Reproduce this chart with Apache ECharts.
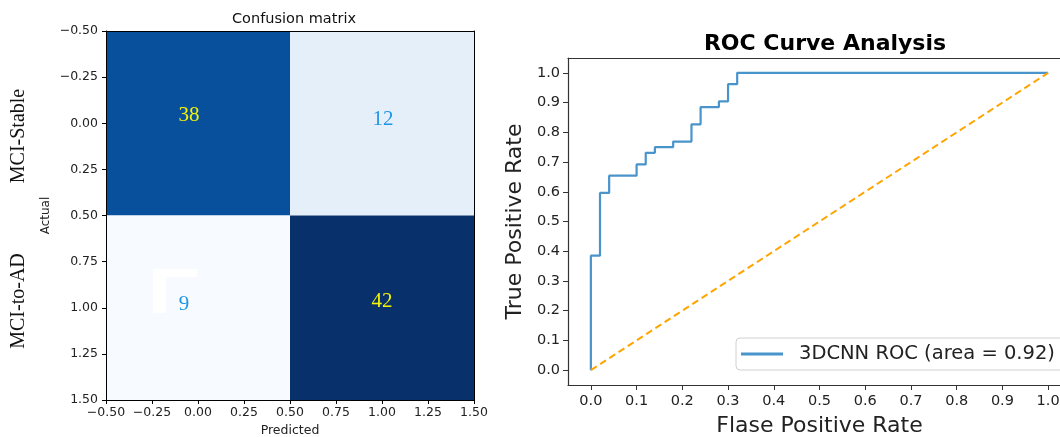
<!DOCTYPE html>
<html>
<head>
<meta charset="utf-8">
<script src="https://cdn.jsdelivr.net/npm/echarts@6/dist/echarts.min.js"></script>
<style>
  html, body { margin: 0; padding: 0; background: #fff; }
  #app { width: 1060px; height: 437px; }
</style>
</head>
<body>
<div id="app"></div>
<script>
// class names and confusion counts (rows = actual, cols = predicted)
var classNames = ['MCI-Stable', 'MCI-to-AD'];
var confusion = [[38, 12], [9, 42]];
// matplotlib Blues colormap stops
var bluesMap = ['#f7fbff', '#deebf7', '#c6dbef', '#9ecae1', '#6baed6', '#4292c6', '#2171b5', '#08519c', '#08306b'];

// ROC curve points
var fpr = [0, 0, 0.02, 0.02, 0.04, 0.04, 0.10, 0.10, 0.12, 0.12, 0.14, 0.14, 0.18, 0.18, 0.22, 0.22, 0.24, 0.24, 0.28, 0.28, 0.30, 0.30, 0.32, 0.32, 1.0];
var tpr = [0, 0.385, 0.385, 0.596, 0.596, 0.654, 0.654, 0.692, 0.692, 0.731, 0.731, 0.750, 0.750, 0.769, 0.769, 0.827, 0.827, 0.885, 0.885, 0.904, 0.904, 0.962, 0.962, 1.0, 1.0];
var chanceX = [0, 1];
var chanceY = [0, 1];
var rocTicks = [0, 0.1, 0.2, 0.3, 0.4, 0.5, 0.6, 0.7, 0.8, 0.9, 1.0];
var rocName = '3DCNN ROC (area = 0.92)';

var FONT = 'DejaVu Sans';
var SERIF = 'Liberation Serif';

// the numbers in the matrix are not quite centred in the reference
var cellTextShift = { '0,0': [-9, -8], '1,0': [1, -4], '0,1': [-14, -3], '1,1': [0, -6] };

var cmData = [];
confusion.forEach(function (row, r) {
    row.forEach(function (v, c) { cmData.push([c, r, v]); });
});
var maxCount = Math.max.apply(null, cmData.map(function (d) { return d[2]; }));
var rocData = fpr.map(function (x, i) { return [x, tpr[i]]; });
var chanceData = chanceX.map(function (x, i) { return [x, chanceY[i]]; });

function cmFmt(v) {
    return v.toFixed(2).replace('-', '\u2212');
}

var chart = echarts.init(document.getElementById('app'), null, { renderer: 'canvas' });

var option = {
    animation: false,
    backgroundColor: '#fff',
    textStyle: { fontFamily: FONT },
    title: [
        { text: 'Confusion matrix', left: 289, top: 7, textAlign: 'center',
          textStyle: { fontSize: 14.5, fontWeight: 'normal', color: '#111', fontFamily: FONT } },
        { text: 'ROC Curve Analysis', left: 820, top: 28, textAlign: 'center',
          textStyle: { fontSize: 22, fontWeight: 'bold', color: '#000', fontFamily: FONT } }
    ],
    legend: {
        data: [rocName],
        left: 736, top: 338,
        padding: [6, 10, 6, 5],
        icon: 'rect',
        itemWidth: 42, itemHeight: 3, itemGap: 10,
        backgroundColor: '#fff',
        borderColor: '#d0d0d0', borderWidth: 1, borderRadius: 4,
        textStyle: { fontSize: 19.5, color: '#222', fontFamily: FONT, padding: [0, 0, 0, 11] }
    },
    visualMap: {
        show: false,
        type: 'continuous',
        seriesIndex: 0,
        dimension: 2,
        min: 9, max: 42,
        inRange: { color: bluesMap }
    },
    grid: [
        { left: 106, top: 31, width: 368, height: 369, outerBoundsMode: 'none', containLabel: false },
        { left: 568, top: 58, width: 503, height: 327, outerBoundsMode: 'none', containLabel: false }
    ],
    xAxis: [
        { type: 'value', gridIndex: 0, min: -0.5, max: 1.5, interval: 0.25, z: 10,
          name: 'Predicted', nameLocation: 'middle', nameGap: 24,
          nameTextStyle: { fontSize: 12.5, color: '#222' },
          axisLine: { show: true, onZero: false, lineStyle: { color: '#000', width: 1 } },
          axisTick: { show: true, length: 4, lineStyle: { color: '#000' } },
          axisLabel: { fontSize: 12.5, color: '#222', margin: 6, formatter: cmFmt, showMinLabel: true, showMaxLabel: true },
          splitLine: { show: false } },
        { type: 'value', gridIndex: 0, position: 'top', min: -0.5, max: 1.5, z: 10,
          axisLine: { show: true, onZero: false, lineStyle: { color: '#000', width: 1 } },
          axisTick: { show: false }, axisLabel: { show: false }, splitLine: { show: false } },
        { type: 'value', gridIndex: 1, min: -0.05, max: 1.05, z: 10,
          name: 'Flase Positive Rate', nameLocation: 'middle', nameGap: 30,
          nameTextStyle: { fontSize: 22, color: '#222' },
          axisLine: { show: true, onZero: false, lineStyle: { color: '#333', width: 1.2 } },
          axisTick: { show: true, length: 5, customValues: rocTicks, lineStyle: { color: '#333' } },
          axisLabel: { fontSize: 14.5, color: '#222', margin: 9, customValues: rocTicks,
                       formatter: function (v) { return v.toFixed(1); } },
          splitLine: { show: false } },
        { type: 'value', gridIndex: 1, position: 'top', min: -0.05, max: 1.05, z: 10,
          axisLine: { show: true, onZero: false, lineStyle: { color: '#333', width: 1.2 } },
          axisTick: { show: false }, axisLabel: { show: false }, splitLine: { show: false } }
    ],
    yAxis: [
        { type: 'value', gridIndex: 0, inverse: true, min: -0.5, max: 1.5, interval: 0.25, z: 10,
          name: 'Actual', nameLocation: 'middle', nameGap: 54, nameRotate: 90,
          nameTextStyle: { fontSize: 12, color: '#222' },
          axisLine: { show: true, onZero: false, lineStyle: { color: '#000', width: 1 } },
          axisTick: { show: true, length: 4, lineStyle: { color: '#000' } },
          axisLabel: { fontSize: 12.5, color: '#222', margin: 8, formatter: cmFmt, showMinLabel: true, showMaxLabel: true },
          splitLine: { show: false } },
        { type: 'value', gridIndex: 0, position: 'right', inverse: true, min: -0.5, max: 1.5, z: 10,
          axisLine: { show: true, onZero: false, lineStyle: { color: '#000', width: 1 } },
          axisTick: { show: false }, axisLabel: { show: false }, splitLine: { show: false } },
        { type: 'value', gridIndex: 1, min: -0.05, max: 1.05, z: 10,
          name: 'True Positive Rate', nameLocation: 'middle', nameGap: 42, nameRotate: 90,
          nameTextStyle: { fontSize: 22, color: '#222' },
          axisLine: { show: true, onZero: false, lineStyle: { color: '#333', width: 1.2 } },
          axisTick: { show: true, length: 5, customValues: rocTicks, lineStyle: { color: '#333' } },
          axisLabel: { fontSize: 14.5, color: '#222', margin: 8, customValues: rocTicks,
                       formatter: function (v) { return v.toFixed(1); } },
          splitLine: { show: false } }
    ],
    graphic: [
        // class names beside the matrix rows
        { type: 'text', x: 19, y: 136, rotation: Math.PI / 2, z: 20,
          style: { text: classNames[0], font: '20px "' + SERIF + '"', fill: '#111', align: 'center', verticalAlign: 'middle' } },
        { type: 'text', x: 19, y: 301, rotation: Math.PI / 2, z: 20,
          style: { text: classNames[1], font: '20px "' + SERIF + '"', fill: '#111', align: 'center', verticalAlign: 'middle' } },
        // stray white mark in the lower-left cell
        { type: 'rect', z: 20, shape: { x: 153, y: 269, width: 44, height: 8 }, style: { fill: '#ffffff' } },
        { type: 'rect', z: 20, shape: { x: 153, y: 269, width: 13, height: 44 }, style: { fill: '#ffffff' } }
    ],
    series: [
        {
            name: 'confusion',
            type: 'custom',
            xAxisIndex: 0, yAxisIndex: 0,
            data: cmData,
            encode: { x: 0, y: 1 },
            renderItem: function (params, api) {
                var x = api.value(0), y = api.value(1), v = api.value(2);
                var p0 = api.coord([x - 0.5, y - 0.5]);
                var p1 = api.coord([x + 0.5, y + 0.5]);
                var c = api.coord([x, y]);
                var sh = cellTextShift[x + ',' + y] || [0, 0];
                return {
                    type: 'group',
                    children: [
                        { type: 'rect',
                          shape: { x: Math.min(p0[0], p1[0]), y: Math.min(p0[1], p1[1]),
                                   width: Math.abs(p1[0] - p0[0]), height: Math.abs(p1[1] - p0[1]) },
                          style: { fill: api.visual('color') } },
                        { type: 'text', x: c[0] + sh[0], y: c[1] + sh[1], z2: 5,
                          style: { text: String(v), font: '21px "' + SERIF + '"',
                                   fill: v > maxCount / 2 ? '#f2f20a' : '#1e96e6',
                                   align: 'center', verticalAlign: 'middle' } }
                    ]
                };
            }
        },
        {
            name: rocName,
            type: 'line',
            xAxisIndex: 2, yAxisIndex: 2,
            data: rocData,
            symbol: 'none',
            lineStyle: { color: '#4a94cc', width: 2.2 },
            itemStyle: { color: '#4a94cc' },
            z: 3
        },
        {
            name: 'chance',
            type: 'line',
            xAxisIndex: 2, yAxisIndex: 2,
            data: chanceData,
            symbol: 'none',
            lineStyle: { color: '#ffa500', width: 2, type: [7, 4] },
            itemStyle: { color: '#ffa500' },
            z: 4
        }
    ]
};

chart.setOption(option);
</script>
</body>
</html>
